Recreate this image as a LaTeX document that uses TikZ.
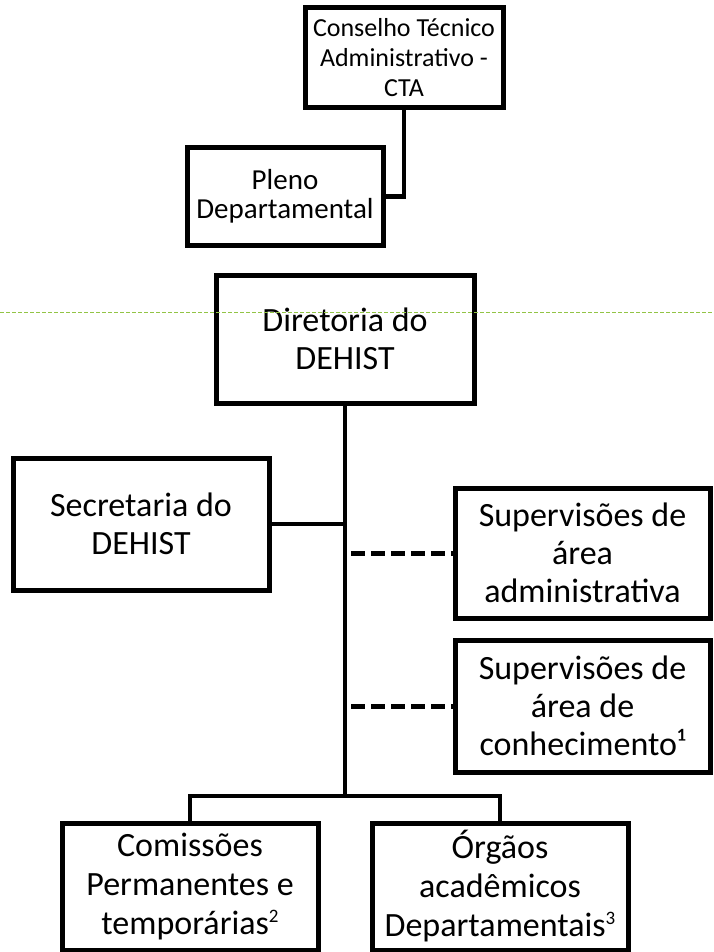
\documentclass[tikz,border=0pt]{standalone}
\usepackage{fontspec}
\setmainfont{Carlito}
\definecolor{guidegreen}{RGB}{146,196,70}
\newcommand{\notemark}[1]{\raisebox{12pt}{\fontsize{19}{19}\selectfont #1}}

\tikzset{
  box/.style={draw, line width=5pt, inner sep=0pt, align=center},
  smalltext/.style={font=\fontsize{26}{30}\selectfont},
  midtext/.style={font=\fontsize{29}{29}\selectfont},
  bigtext/.style={font=\fontsize{34}{38}\selectfont},
  link/.style={line width=4.5pt},
  dashlink/.style={line width=5pt, dash pattern=on 14pt off 6pt, dash phase=14pt},
}

\begin{document}
\begin{tikzpicture}[x=1pt,y=-1pt]
\useasboundingbox (0,0) rectangle (714,952);
% upper part
\node[box, smalltext, minimum width=198pt, minimum height=100pt] (cta) at (404,58) {Conselho Técnico\\Administrativo -\\CTA};
\node[box, midtext, minimum width=196pt, minimum height=97pt] (pleno) at (285,196.5) {Pleno\\Departamental};
\draw[link] (cta.south) |- (pleno.east);
% direction and its units
\node[box, bigtext, minimum width=258pt, minimum height=128pt] (dir) at (345,339) {Diretoria do\\DEHIST};
\node[box, bigtext, minimum width=256pt, minimum height=132pt] (sec) at (141,524) {Secretaria do\\DEHIST};
\node[box, bigtext, minimum width=255pt, minimum height=130pt] (supadm) at (582.5,553) {Supervisões de\\área\\administrativa};
\node[box, bigtext, minimum width=255pt, minimum height=132pt] (supcon) at (582.5,706) {Supervisões de\\área de\\conhecimento¹};
\node[box, font=\fontsize{34}{39}\selectfont, minimum width=256pt, minimum height=127pt] (com) at (190,886.5) {Comissões\\Permanentes e\\temporárias\notemark{2}};
\node[box, font=\fontsize{34}{39}\selectfont, minimum width=256pt, minimum height=127pt] (org) at (500,886.5) {Órgãos\\acadêmicos\\Departamentais\notemark{3}};
\coordinate (bus) at (345,796);
\draw[link] (dir.south) -- (bus);
\draw[link] (com.north) |- (bus) -| (org.north);
\draw[link] (sec.east) -- (sec.east -| dir.south);
\draw[dashlink] (supadm.west -| dir.south) -- (supadm.west);
\draw[dashlink] (supcon.west -| dir.south) -- (supcon.west);
% guide line
\draw[guidegreen, line width=1pt, dash pattern=on 4pt off 2pt] (0,312) -- (714,312);
\end{tikzpicture}
\end{document}
